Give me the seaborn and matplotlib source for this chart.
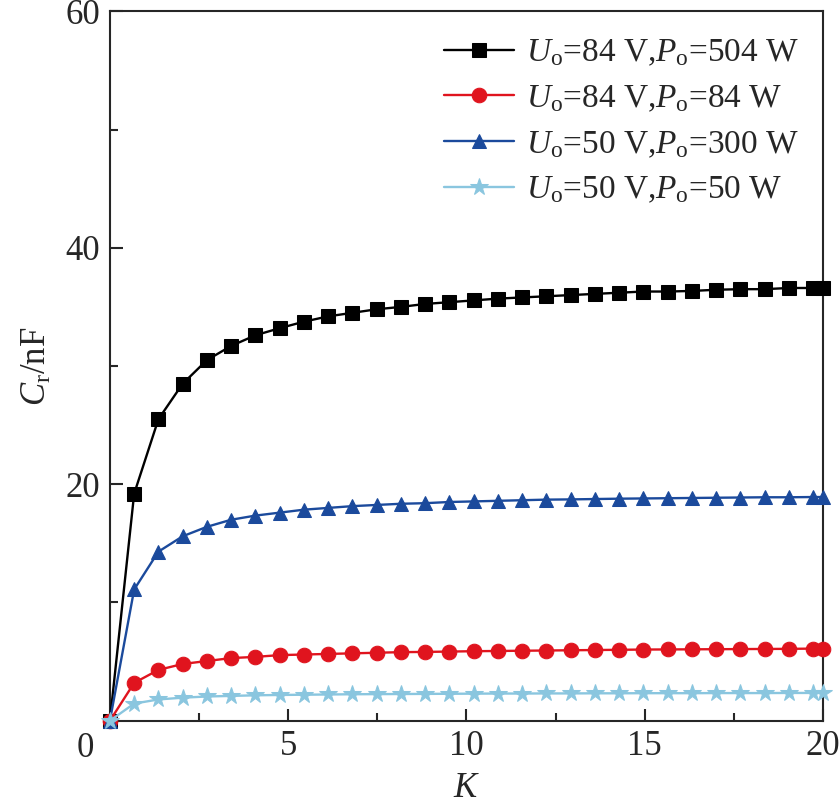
import matplotlib
matplotlib.use("Agg")
import pandas as pd
import matplotlib.pyplot as plt
import seaborn as sns
from matplotlib.ticker import MultipleLocator

# K values (x axis)
k = [0, 0.68, 1.36, 2.04, 2.72, 3.4, 4.08, 4.76, 5.44, 6.12, 6.8, 7.48, 8.16,
     8.84, 9.52, 10.2, 10.88, 11.56, 12.24, 12.92, 13.6, 14.28, 14.96, 15.64,
     16.32, 17.0, 17.68, 18.36, 19.04, 19.72, 20.0]

# Cr in nF for each operating point
cr_84v_504w = [0, 19.2, 25.5, 28.5, 30.5, 31.7, 32.6, 33.2, 33.75, 34.2, 34.5,
               34.8, 35.0, 35.25, 35.4, 35.55, 35.7, 35.8, 35.9, 36.0, 36.1,
               36.2, 36.3, 36.3, 36.35, 36.45, 36.5, 36.5, 36.6, 36.6, 36.6]
cr_84v_84w = [0, 3.2, 4.3, 4.8, 5.05, 5.3, 5.4, 5.55, 5.6, 5.65, 5.7, 5.75,
              5.8, 5.82, 5.85, 5.88, 5.9, 5.92, 5.94, 5.96, 5.98, 6.0, 6.02,
              6.03, 6.04, 6.05, 6.06, 6.07, 6.08, 6.1, 6.1]
cr_50v_300w = [0, 11.1, 14.3, 15.6, 16.4, 17.0, 17.35, 17.6, 17.85, 18.0,
               18.15, 18.25, 18.35, 18.4, 18.5, 18.55, 18.6, 18.65, 18.7,
               18.72, 18.75, 18.78, 18.8, 18.82, 18.84, 18.86, 18.88, 18.9,
               18.9, 18.92, 18.92]
cr_50v_50w = [0, 1.45, 1.8, 1.95, 2.05, 2.1, 2.15, 2.18, 2.2, 2.22, 2.24,
              2.25, 2.26, 2.27, 2.28, 2.29, 2.3, 2.3, 2.31, 2.31, 2.32, 2.32,
              2.33, 2.33, 2.33, 2.34, 2.34, 2.34, 2.35, 2.35, 2.35]

labels = [r"$U_{\mathrm{o}}$=84 V,$P_{\mathrm{o}}$=504 W",
          r"$U_{\mathrm{o}}$=84 V,$P_{\mathrm{o}}$=84 W",
          r"$U_{\mathrm{o}}$=50 V,$P_{\mathrm{o}}$=300 W",
          r"$U_{\mathrm{o}}$=50 V,$P_{\mathrm{o}}$=50 W"]
series = [cr_84v_504w, cr_84v_84w, cr_50v_300w, cr_50v_50w]
colors = ["#000000", "#e0141e", "#1b4a9c", "#8ac6df"]
markers = ["s", "o", "^", "*"]
msizes = [9.5, 10.5, 10.5, 13]

sns.set_style("ticks")
plt.rcParams["font.family"] = ["Liberation Serif", "DejaVu Serif"]
plt.rcParams["mathtext.fontset"] = "custom"
plt.rcParams["mathtext.rm"] = "Liberation Serif"
plt.rcParams["mathtext.it"] = "Liberation Serif:italic"

fig = plt.figure(figsize=(8.39, 8.08), dpi=100)
ax = fig.add_axes([0.131, 0.108, 0.850, 0.878])

for ys, lab, c, m, ms in zip(series, labels, colors, markers, msizes):
    df = pd.DataFrame({"K": k, "Cr": ys})
    sns.lineplot(data=df, x="K", y="Cr", ax=ax, color=c, marker=m,
                 markersize=ms, markeredgecolor=c, linewidth=1.7,
                 label=lab, clip_on=False, zorder=3)

ax.set_xlim(0, 20)
ax.set_ylim(0, 60)
ax.set_xticks([5, 10, 15, 20])
ax.set_yticks([20, 40, 60])
ax.xaxis.set_minor_locator(MultipleLocator(2.5))
ax.yaxis.set_minor_locator(MultipleLocator(10))
ax.tick_params(which="both", direction="in", labelsize=25, width=1.5,
               top=False, right=False, pad=7)
ax.tick_params(which="major", length=9)
ax.tick_params(which="minor", length=6)
for sp in ax.spines.values():
    sp.set_linewidth(1.5)
    sp.set_visible(True)
ax.text(-0.022, -0.016, "0", transform=ax.transAxes, fontsize=25,
        ha="right", va="top")

ax.set_xlabel("$K$", fontsize=25, labelpad=6)
ax.set_ylabel(r"$C_{\mathrm{r}}$/nF", fontsize=25, labelpad=8)

leg = ax.legend(loc="upper right", fontsize=24, frameon=False,
                handlelength=2.1, handletextpad=0.35, labelspacing=0.45,
                borderaxespad=0.25, bbox_to_anchor=(0.997, 0.993))

fig.savefig("out.png", dpi=100)
